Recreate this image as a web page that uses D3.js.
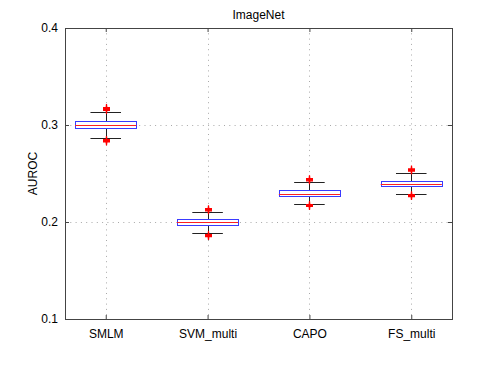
<!DOCTYPE html>
<html>
<head>
<meta charset="utf-8">
<script src="https://cdn.jsdelivr.net/npm/d3@7"></script>
<style>
  body { margin: 0; background: #fff; }
  text { font-family: 'Liberation Sans', Arial, sans-serif; font-size: 12px; fill: #000; }
</style>
</head>
<body>
<div id="graf"></div>
<script>
// !DATOS
const metodos = ['SMLM', 'SVM_multi', 'CAPO', 'FS_multi']
const medianas = [0.3003, 0.2, 0.2292, 0.2392]
const q1 = [0.2965, 0.1969, 0.2265, 0.2368]
const q3 = [0.304, 0.2031, 0.2327, 0.2423]
const bigoteBajo = [0.2863, 0.1887, 0.2189, 0.2289]
const bigoteAlto = [0.3134, 0.2106, 0.2409, 0.2502]
const atipicos = [
  [0.315, 0.3158, 0.3165, 0.3172, 0.318, 0.2825, 0.2832, 0.2838, 0.2845, 0.285],
  [0.2115, 0.2122, 0.213, 0.2137, 0.185, 0.1856, 0.1862, 0.187],
  [0.2425, 0.2432, 0.244, 0.2447, 0.216, 0.2166, 0.2172, 0.218],
  [0.2525, 0.2532, 0.254, 0.2547, 0.2262, 0.2268, 0.2275, 0.2282],
]
const yTicks = [0.1, 0.2, 0.3, 0.4]

const anchoTotal = 498
const altoTotal = 375
const margin = { top: 28, bottom: 56, left: 65, right: 46 }
const ancho = anchoTotal - margin.left - margin.right
const alto = altoTotal - margin.top - margin.bottom

const svg = d3.select('#graf')
  .append('svg')
  .attr('width', anchoTotal)
  .attr('height', altoTotal)

const g = svg.append('g')
  .attr('transform', `translate(${margin.left}, ${margin.top})`)

// !ESCALADORES
const x = d3.scaleLinear().domain([0.6, 4.4]).range([0, ancho])
const y = d3.scaleLinear().domain([0.1, 0.4]).range([alto, 0])
const px = (v) => Math.round(v) + 0.5

// grid
g.selectAll('.gx')
  .data(metodos)
  .join('line')
  .attr('x1', (d, i) => px(x(i + 1)))
  .attr('x2', (d, i) => px(x(i + 1)))
  .attr('y1', 0)
  .attr('y2', alto)
  .attr('stroke', '#a8a8a8')
  .attr('stroke-dasharray', '1,4.3')

g.selectAll('.gy')
  .data(yTicks.slice(1, -1))
  .join('line')
  .attr('x1', 0)
  .attr('x2', ancho)
  .attr('y1', (d) => px(y(d)))
  .attr('y2', (d) => px(y(d)))
  .attr('stroke', '#a8a8a8')
  .attr('stroke-dasharray', '1,4.3')

// ejes (ticks hacia dentro)
const ejeX = g.append('g')
  .attr('transform', `translate(0, ${alto})`)
  .call(d3.axisBottom(x).tickValues([1, 2, 3, 4]).tickSize(-4).tickPadding(10)
    .tickFormat((d) => metodos[d - 1]))
const ejeXTop = g.append('g')
  .call(d3.axisTop(x).tickValues([1, 2, 3, 4]).tickSize(-4).tickFormat(''))
const ejeY = g.append('g')
  .call(d3.axisLeft(y).tickValues(yTicks).tickSize(-4).tickPadding(7)
    .tickFormat(d3.format('.1f')))
const ejeYDer = g.append('g')
  .attr('transform', `translate(${ancho}, 0)`)
  .call(d3.axisRight(y).tickValues(yTicks).tickSize(-4).tickFormat(''))

;[ejeX, ejeXTop, ejeY, ejeYDer].forEach((e) => {
  e.selectAll('.domain').remove()
  e.selectAll('line').attr('stroke', '#444')
  e.selectAll('text').style('font-size', '12px').attr('fill', '#111')
})

// marco
g.append('rect')
  .attr('x', 0.5)
  .attr('y', 0.5)
  .attr('width', ancho)
  .attr('height', alto)
  .attr('fill', 'none')
  .attr('stroke', '#444')

// !CAJAS
const cajas = g.selectAll('.caja')
  .data(metodos)
  .join('g')

// bigotes
cajas.append('line')
  .attr('x1', (d, i) => px(x(i + 1)))
  .attr('x2', (d, i) => px(x(i + 1)))
  .attr('y1', (d, i) => y(bigoteAlto[i]))
  .attr('y2', (d, i) => y(q3[i]))
  .attr('stroke', '#222')
cajas.append('line')
  .attr('x1', (d, i) => px(x(i + 1)))
  .attr('x2', (d, i) => px(x(i + 1)))
  .attr('y1', (d, i) => y(q1[i]))
  .attr('y2', (d, i) => y(bigoteBajo[i]))
  .attr('stroke', '#222')
cajas.append('line')
  .attr('x1', (d, i) => x(i + 0.85))
  .attr('x2', (d, i) => x(i + 1.15))
  .attr('y1', (d, i) => px(y(bigoteAlto[i])))
  .attr('y2', (d, i) => px(y(bigoteAlto[i])))
  .attr('stroke', '#222')
cajas.append('line')
  .attr('x1', (d, i) => x(i + 0.85))
  .attr('x2', (d, i) => x(i + 1.15))
  .attr('y1', (d, i) => px(y(bigoteBajo[i])))
  .attr('y2', (d, i) => px(y(bigoteBajo[i])))
  .attr('stroke', '#222')

cajas.append('rect')
  .attr('x', (d, i) => px(x(i + 0.7)))
  .attr('y', (d, i) => px(y(q3[i])))
  .attr('width', (d, i) => Math.round(x(i + 1.3) - x(i + 0.7)))
  .attr('height', (d, i) => Math.round(y(q1[i]) - y(q3[i])))
  .attr('fill', '#fff')
  .attr('stroke', '#3a3aff')

cajas.append('line')
  .attr('x1', (d, i) => x(i + 0.7))
  .attr('x2', (d, i) => x(i + 1.3))
  .attr('y1', (d, i) => px(y(medianas[i])))
  .attr('y2', (d, i) => px(y(medianas[i])))
  .attr('stroke', '#ff2020')

// atipicos '+'
const puntos = []
atipicos.forEach((arr, i) => arr.forEach((v) => puntos.push({ i, v })))
g.selectAll('.atip')
  .data(puntos)
  .join('path')
  .attr('d', (d) => {
    const cx = px(x(d.i + 1))
    const cy = y(d.v)
    return `M${cx - 3.5},${cy}H${cx + 3.5}M${cx},${cy - 3.5}V${cy + 3.5}`
  })
  .attr('stroke', '#ff0000')
  .attr('stroke-width', 1.2)
  .attr('fill', 'none')

// titulo y etiqueta
svg.append('text')
  .attr('x', margin.left + ancho / 2)
  .attr('y', 19)
  .attr('text-anchor', 'middle')
  .text('ImageNet')

svg.append('text')
  .attr('transform', `translate(37, ${margin.top + alto / 2}) rotate(-90)`)
  .attr('text-anchor', 'middle')
  .text('AUROC')
</script>
</body>
</html>
